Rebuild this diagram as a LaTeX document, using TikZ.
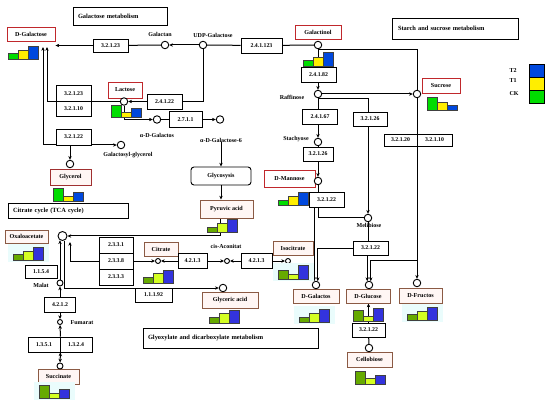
\documentclass[tikz,border=0pt]{standalone}
\usepackage{fontspec}
\setmainfont{Liberation Serif}
\usetikzlibrary{arrows.meta}
\pgfdeclarelayer{back}
\pgfdeclarelayer{bg}
\pgfsetlayers{back,bg,main}
\definecolor{gA}{HTML}{00DD00}
\definecolor{yA}{HTML}{FFEE00}
\definecolor{bA}{HTML}{0048DD}
\definecolor{gB}{HTML}{66AA00}
\definecolor{yB}{HTML}{D4FF22}
\definecolor{bB}{HTML}{3333DD}
\definecolor{redbox}{HTML}{C0282C}
\definecolor{darkred}{HTML}{A03030}
\definecolor{brownbox}{HTML}{8B5A44}
\definecolor{pinkfill}{HTML}{FFF6F4}
\definecolor{cyanbg}{HTML}{EAFCFC}
\newcommand\barset[8]{%
  \path[barst,fill=#6] (#1,#2) rectangle ++(10,-#3);
  \path[barst,fill=#7] (#1+10,#2) rectangle ++(10,-#4);
  \path[barst,fill=#8] (#1+20,#2) rectangle ++(10,-#5);}
\newcommand\barbg[2]{\fill[cyanbg] (#1-5,#2+2) rectangle (#1+36,#2-16);}
\tikzset{
  barst/.style={draw=black!75,line width=0.5pt},
  sz/.style 2 args={minimum width=#1pt,minimum height=#2pt},
  enz/.style={draw,line width=0.8pt,fill=white,inner sep=0pt,font=\fontsize{5.8}{6}\selectfont\bfseries},
  met/.style={draw=redbox,line width=0.9pt,fill=white,inner sep=0pt,font=\fontsize{6.1}{7}\selectfont\bfseries},
  metb/.style={draw=brownbox,line width=0.9pt,fill=pinkfill,inner sep=0pt,font=\fontsize{6.1}{7}\selectfont\bfseries},
  cir/.style={circle,draw,line width=0.9pt,fill=white,inner sep=0pt,minimum size=7.5pt},
  scir/.style={cir,minimum size=5pt},
  lab/.style={inner sep=0pt,font=\fontsize{6}{6.5}\selectfont\bfseries},
  ttl/.style={draw,line width=0.8pt,fill=white,inner ysep=0pt,align=left,font=\fontsize{6.4}{7}\selectfont\bfseries},
  con/.style={line width=1pt},
  arr/.style={con,-{Stealth[length=3.8pt,width=3.4pt]}},
  both/.style={con,{Stealth[length=3.8pt,width=3.4pt]}-{Stealth[length=3.8pt,width=3.4pt]}}
}
\begin{document}
\begin{tikzpicture}[x=1pt,y=-1pt]
\begin{pgfonlayer}{back}
\fill[white] (0,0) rectangle (550,404);
\end{pgfonlayer}
\useasboundingbox (0,0) rectangle (550,404);
% titles
\node[ttl,text width=84pt,inner xsep=5pt,minimum height=18pt] (tGal) at (120,16) {Galactose metabolism};
\node[ttl,text width=114pt,inner xsep=6pt,minimum height=21pt] (tSta) at (455,28.5) {Starch and sucrose metabolism};
\node[ttl,text width=110pt,inner xsep=5pt,minimum height=15pt] (tTCA) at (68,210.5) {Citrate cycle (TCA cycle)};
\node[ttl,text width=165pt,inner xsep=5pt,minimum height=20pt] (tGly) at (230.5,338) {Glyoxylate and dicarboxylate metabolism};
% metabolites
\node[met,sz={48}{14}] (mGal) at (31,34) {D-Galactose};
\node[met,sz={34}{16}] (mLac) at (125,90) {Lactose};
\node[met,sz={46}{14}] (mGnol) at (318,32) {Galactinol};
\node[met,sz={38}{15}] (mSuc) at (441,85.5) {Sucrose};
\node[met,draw=darkred,fill=pinkfill,sz={41}{16}] (mGly) at (70.5,177) {Glycerol};
\node[met,sz={51}{17}] (mMan) at (289.5,178.5) {D-Mannose};
\node[metb,sz={43}{13}] (mOxa) at (26.5,236.5) {Oxaloacetate};
\node[metb,sz={53}{18}] (mPyr) at (226.5,209) {Pyruvic acid};
\node[metb,sz={34}{14}] (mCit) at (161,249) {Citrate};
\node[metb,sz={40}{14}] (mIso) at (293,248) {Isocitrate};
\node[metb,sz={56}{16}] (mGlyc) at (230,300) {Glyceric acid};
\node[metb,sz={46}{14}] (mDgal) at (316,296) {D-Galactos};
\node[metb,sz={44}{14}] (mDglu) at (368,296) {D-Glucose};
\node[metb,sz={43}{15}] (mFru) at (420.5,295.5) {D-Fructos};
\node[metb,sz={45}{15}] (mCel) at (369.5,359.5) {Cellobiose};
\node[metb,sz={41}{15}] (mSucc) at (58.5,376.5) {Succinate};
\node[draw,rounded corners=3pt,line width=0.9pt,fill=white,sz={60}{18},inner sep=0pt,font=\fontsize{6.1}{7}\selectfont\bfseries] (glyco) at (221,176) {Glycosysis};
% enzymes
\node[enz,sz={35}{13}] (e1) at (110.5,45.5) {3.2.1.23};
\node[enz,sz={41}{15}] (e2) at (261.5,45.5) {2.4.1.123};
\node[enz,sz={35}{15}] (e3) at (164.5,101.5) {2.4.1.22};
\node[enz,sz={35}{16}] (e4a) at (73.5,93.5) {3.2.1.23};
\node[enz,sz={35}{15}] (e4b) at (73.5,109) {3.2.1.10};
\node[enz,sz={33}{16}] (e5) at (185.5,119.5) {2.7.1.1};
\node[enz,sz={35}{16}] (e6) at (73.5,137) {3.2.1.22};
\node[enz,sz={35}{15}] (e7) at (318.5,74.5) {2.4.1.82};
\node[enz,sz={35}{15}] (e8) at (320,116.5) {2.4.1.67};
\node[enz,sz={34}{14}] (e9) at (370,119) {3.2.1.26};
\node[enz,sz={30}{14}] (e10) at (318,154) {3.2.1.26};
\node[enz,sz={33}{12}] (e11a) at (400.5,140) {3.2.1.20};
\node[enz,sz={35}{12}] (e11b) at (434.5,140) {3.2.1.10};
\node[enz,sz={35}{15}] (e12) at (326.5,199.5) {3.2.1.22};
\node[enz,sz={35}{14}] (e13) at (370.5,248) {3.2.1.22};
\node[enz,sz={33}{14}] (e14) at (368.5,330) {3.2.1.22};
\node[enz,sz={34}{16}] (e15a) at (116,245) {2.3.3.1};
\node[enz,sz={34}{16}] (e15b) at (116,261) {2.3.3.8};
\node[enz,sz={34}{16}] (e15c) at (116,277) {2.3.3.3};
\node[enz,sz={29}{15}] (e16) at (192.5,261) {4.2.1.3};
\node[enz,sz={31}{15}] (e17) at (256.5,261) {4.2.1.3};
\node[enz,sz={37}{14}] (e18) at (153.5,295) {1.1.1.92};
\node[enz,sz={32}{13}] (e19) at (41,271.5) {1.1.5.4};
\node[enz,sz={31}{15}] (e20) at (60,304.5) {4.2.1.2};
\node[enz,sz={32}{15}] (e21a) at (44,344.5) {1.3.5.1};
\node[enz,sz={32}{15}] (e21b) at (76,344.5) {1.3.2.4};
% circles
\node[cir] (cGalan) at (165,45) {};
\node[cir] (cUdp) at (203,45) {};
\node[cir] (cGnol) at (318,45) {};
\node[cir] (cLac) at (124,101.5) {};
\node[cir] (cAgal) at (157,119.5) {};
\node[cir] (cAgal6) at (220,119.5) {};
\node[cir] (cGg) at (121,145) {};
\node[cir] (cGly) at (70,164) {};
\node[cir] (cRaf) at (318,94) {};
\node[cir] (cSuc) at (417,94) {};
\node[cir] (cSta) at (318,142) {};
\node[cir] (cMan) at (318,181) {};
\node[cir] (cMeli) at (368,218) {};
\node[cir,minimum size=9pt] (cOxa) at (62.5,236) {};
\node[scir] (cCit) at (158,261) {};
\node[scir] (cCis) at (227,261) {};
\node[scir] (cIso) at (288,261) {};
\node[cir] (cGlyc) at (223,288) {};
\node[cir,minimum size=6pt] (cMal) at (60,283) {};
\node[scir] (cFum) at (60,322) {};
\node[cir,minimum size=6pt] (cSucc) at (60,366) {};
\node[cir] (cDgal) at (316,285) {};
\node[cir] (cDglu) at (369,285) {};
\node[cir] (cFru) at (417,283) {};
\node[cir] (cCel) at (369,348) {};
% labels
\node[lab] (lGalan) at (160,34) {Galactan};
\node[lab] (lUdp) at (213,35) {UDP-Galactose};
\node[lab] (lAgal) at (157,135) {α-D-Galactos};
\node[lab] (lAgal6) at (221,140) {α-D-Galactose-6};
\node[lab] (lGg) at (128,155) {Galactosyl-glycerol};
\node[lab] (lRaf) at (292,97) {Raffinose};
\node[lab] (lSta) at (296,139) {Stachyose};
\node[lab] (lMeli) at (369,225) {Melibiose};
\node[lab] (lCis) at (226,246) {cis-Aconitat};
\node[lab] (lMal) at (41,285) {Malat};
\node[lab] (lFum) at (82,323) {Fumarat};
% legend
\node[lab] (lT2) at (513,71) {T2};
\node[lab] (lT1) at (513,81) {T1};
\node[lab] (lCK) at (514,94) {CK};
\node[draw,line width=0.8pt,fill=bA,sz={15}{13},inner sep=0pt] (sT2) at (536.5,70.5) {};
\node[draw,line width=0.8pt,fill=yA,sz={15}{13},inner sep=0pt] (sT1) at (536.5,83.5) {};
\node[draw,line width=0.8pt,fill=gA,sz={15}{13},inner sep=0pt] (sCK) at (536.5,96.5) {};
% connectors
\coordinate (tg1) at (47,47);
\coordinate (tg2) at (43,47);
\coordinate (k1) at (417,50);
\coordinate (k2) at (368,99);
\coordinate (k3) at (417,260);
\coordinate (o1) at (70,242);
\begin{pgfonlayer}{bg}
\draw[arr] (cUdp) -- (cGalan);
\draw[con] (cGnol) -- (e2);
\draw[con] (e2) -- (cUdp);
\draw[con] (cGalan) -- (e1);
\draw[arr] (e1.west) -- (e1.west -| mGal.east);
\draw[con] (cUdp) |- (e3.east);
\draw[arr] (e3) -- (cLac);
\draw[arr] (cLac) -| (tg1);
\draw[both] (tg2) |- (cGg);
\draw[arr] (cGly |- e6.south) -- (cGly);
\draw[arr] (cLac) |- (cAgal);
\draw[con] (cAgal) -- (e5);
\draw[arr] (e5) -- (cAgal6);
\draw[arr] (lAgal6) -- (lAgal6 |- glyco.north);
\draw[arr] (glyco.south) -- (glyco.south |- mPyr.north);
\draw[arr] ([xshift=-6.5pt]mPyr.south) |- (cOxa);
\draw[con] (cGnol) |- (k1) -- (cSuc);
\draw[arr] (cGnol) -- (cRaf);
\draw[arr] (cRaf) -- (cSuc);
\draw[arr] (cRaf.south) |- (k2) -- (cMeli);
\draw[arr] (cRaf) -- (cSta);
\draw[arr] (cSta) -- (cMan);
\draw[con] (cMan) |- (cMeli);
\draw[arr] (cDgal.115 |- e12.south) -- (cDgal.115);
\draw[arr] (e13.west) -| (cDgal.65);
\draw[con] (cMeli) -- (cMeli |- e13.north);
\draw[arr] (cDglu.115 |- e13.south) -- (cDglu.115);
\draw[arr] (cSuc) -- (cFru);
\draw[arr] (k3) -| (cDglu.65);
\draw[arr] (e14.north) -- (e14.north |- mDglu.south);
\draw[con] (e14) -- (cCel);
\draw[arr] (e15b.west) -| (o1);
\draw[arr] (cMal) -- (cMal |- cOxa.240);
\draw[arr] (cOxa.290) |- (cGlyc);
\draw[arr] (e15b) -- (cCit);
\draw[arr] (e16) -- (cCit);
\draw[arr] (e16) -- (cCis);
\draw[arr] (e17) -- (cCis);
\draw[arr] (e17) -- (cIso);
\draw[arr] (e20) -- (cMal);
\draw[arr] (e20) -- (cFum);
\draw[arr] (e21a.north east) -- (cFum);
\draw[both] (e21a.south east) -- (cSucc);
\end{pgfonlayer}
% bars
\barset{8}{59}{6}{9}{13}{gA}{yA}{bA}
\barset{111.5}{117}{12}{5}{9}{gA}{yA}{bA}
\barset{303}{66}{6}{9}{14}{gA}{yA}{bA}
\barset{427}{110}{13}{8}{5}{gA}{yA}{bA}
\barset{53}{201}{13}{5}{9}{gA}{yA}{bA}
\barset{278}{205}{5}{9}{13}{gA}{yA}{bA}
\barbg{13}{260}\barset{13}{260}{6}{9}{13}{gB}{yB}{bB}
\barset{207}{232}{5}{9}{13}{gB}{yB}{bB}
\barset{143}{283}{6}{10}{13}{gB}{yB}{bB}
\barbg{278}{279}\barset{278}{279}{9}{5}{14}{gB}{yB}{bB}
\barset{209}{323}{6}{10}{13}{gB}{yB}{bB}
\barbg{299}{322}\barset{299}{322}{5}{9}{13}{gB}{yB}{bB}
\barset{353}{321}{11}{5}{13}{gB}{yB}{bB}
\barbg{407}{320}\barset{407}{320}{6}{9}{13}{gB}{yB}{bB}
\barset{355}{384}{13}{6}{9}{gB}{yB}{bB}
\barbg{39}{398}\barset{39}{398}{13}{5}{9}{gB}{yB}{bB}
\end{tikzpicture}
\end{document}
